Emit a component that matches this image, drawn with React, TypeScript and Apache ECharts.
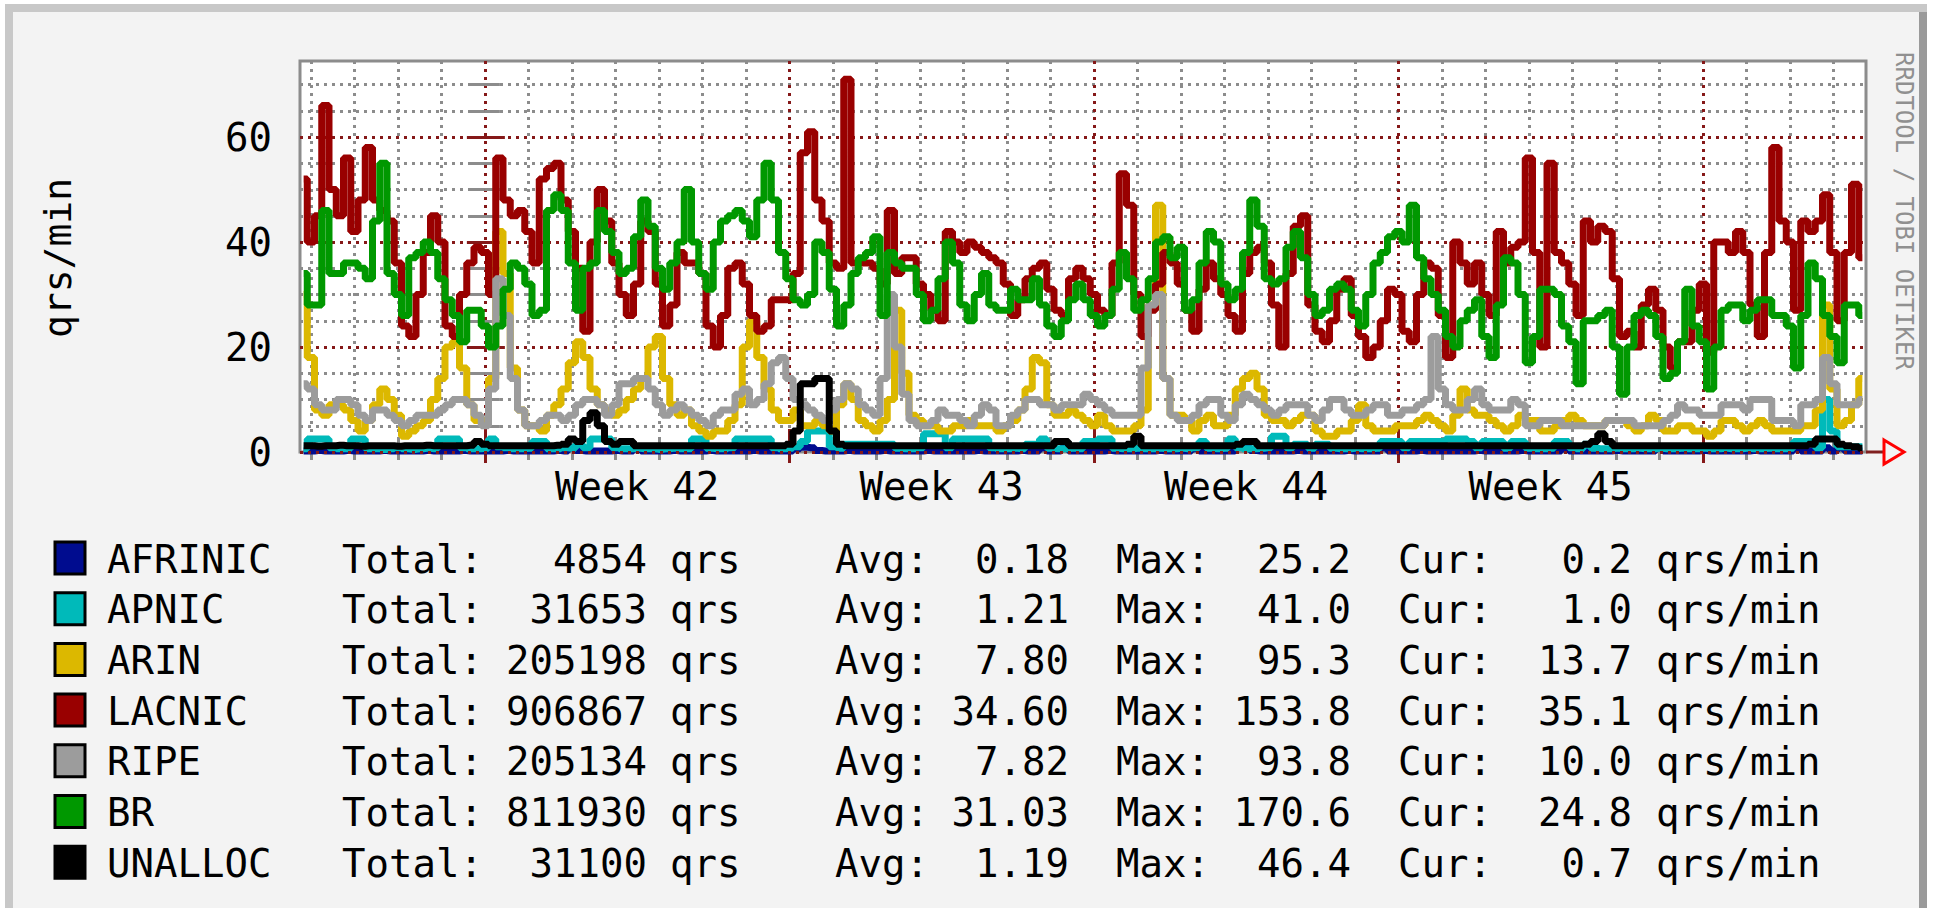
import React, { useEffect, useRef } from 'react';
import * as echarts from 'echarts';

// ---- time sampling (hours from Monday 00:00 of week 42) ----
const SAMPLE_START_HOUR = -100;
const SAMPLE_STEP_HOURS = 4;
const X_MIN = -102;
const X_MAX = 762;
const Y_MAX = 74.5;

// ---- series values (qrs/min), one value per 4 hours ----
const AFRINIC = [
  0.2,0.2,0.3,0.2,0.2,0.2,0.3,0.2,0.2,0.2,
  0.2,0.3,0.2,0.2,0.2,0.2,0.2,0.3,0.2,0.2,
  0.2,0.2,0.3,0.2,0.2,0.2,0.2,0.2,0.3,0.2,
  0.2,0.2,0.2,0.2,0.2,0.3,0.2,0.8,0.3,0.2,
  0.2,0.2,0.2,0.3,0.2,0.2,0.9,0.2,0.2,0.2,
  0.2,0.3,0.2,0.2,0.2,0.2,0.3,0.2,0.2,0.2,
  0.2,0.2,0.3,0.2,0.2,0.2,0.2,0.2,0.6,0.9,
  0.8,0.3,0.2,0.2,0.2,0.3,0.2,0.2,0.2,0.2,
  0.3,0.2,0.2,0.2,0.2,0.2,0.3,0.2,0.2,0.2,
  0.2,0.2,0.2,0.3,0.2,0.2,0.2,0.2,0.2,0.3,
  0.2,0.2,0.8,0.2,0.2,0.8,0.2,0.2,0.2,0.2,
  0.2,0.3,0.2,0.2,0.2,0.2,0.2,0.2,0.3,0.2,
  0.2,0.2,0.2,0.6,0.2,0.2,0.2,0.2,0.2,1.0,
  1.0,0.3,0.2,0.2,0.2,0.2,0.2,0.3,0.2,0.2,
  0.2,0.2,0.2,0.2,0.3,0.2,0.2,0.2,0.2,0.8,
  0.2,0.2,0.2,0.2,0.3,0.2,0.2,0.2,0.2,0.2,
  0.2,0.2,0.3,0.2,0.2,0.2,0.2,0.2,0.3,0.2,
  0.2,0.2,0.2,0.2,0.8,0.2,0.2,0.2,0.2,0.2,
  0.2,0.3,0.2,0.2,0.2,0.2,0.2,0.8,0.2,0.2,
  0.2,0.2,0.2,0.3,0.2,0.2,0.2,0.2,0.2,0.2,
  0.3,0.2,0.2,0.2,0.2,0.2,0.8,0.2,0.2,0.2,
  0.8,0.2,0.8,0.2,0.2,0.2,
];
const APNIC = [
  0.6,2.5,2.5,2.5,0.8,0.6,0.6,2.5,2.5,0.6,
  0.6,0.5,0.6,0.8,0.6,0.5,0.6,0.7,0.6,2.5,
  2.5,2.5,0.8,0.6,0.6,0.7,2.5,1.0,0.8,0.6,
  0.6,0.7,2.0,2.0,0.6,0.6,0.8,0.7,1.5,0.8,
  2.5,2.5,2.5,0.8,0.6,0.6,0.7,0.6,0.6,0.5,
  0.6,0.7,0.6,0.6,2.5,2.5,0.7,0.6,0.6,0.8,
  2.5,2.5,2.5,2.5,2.5,0.8,0.6,0.7,1.0,2.0,
  4.0,4.0,4.0,1.0,0.7,1.5,1.5,1.5,1.5,1.5,
  1.5,1.5,0.7,0.6,0.6,0.8,3.5,3.5,3.5,0.8,
  2.5,2.5,2.5,2.5,2.5,0.8,0.6,0.6,0.7,0.6,
  1.5,1.5,2.5,0.7,0.6,0.6,0.7,0.6,2.0,2.0,
  2.5,2.5,0.7,0.6,0.6,0.7,0.6,0.6,0.7,0.6,
  0.6,0.7,0.6,0.8,2.0,0.7,0.6,0.7,2.5,0.8,
  0.6,0.6,0.7,0.8,3.0,3.0,0.8,1.5,1.5,0.7,
  1.5,1.5,0.7,0.6,0.6,0.7,0.6,0.6,0.7,2.0,
  2.0,2.0,0.8,2.0,2.0,2.0,2.0,2.0,2.5,2.5,
  2.5,2.0,0.8,2.0,2.0,2.0,0.7,2.0,2.0,0.7,
  0.6,0.6,0.7,2.0,2.0,0.8,0.6,1.5,0.7,0.6,
  0.6,0.7,0.6,0.6,0.7,0.6,0.6,0.7,0.6,0.6,
  0.7,0.6,0.6,0.7,0.6,0.6,0.7,0.6,0.6,0.7,
  0.6,0.6,0.7,0.6,0.6,0.7,2.0,2.0,2.0,0.8,
  10.0,4.0,1.0,1.0,1.0,1.0,
];
const ARIN = [
  30,18,8,7,9,9,8,6,4,6,
  9,12,10,7,3,4,5,6,10,14,
  20,21,16,9,6,6,14,42,34,16,
  8,5,5,4,7,9,12,17,21,18,
  12,9,8,7,8,10,12,14,20,22,
  14,9,7,8,5,4,3,4,4,6,
  9,20,25,18,12,8,6,6,8,5,
  5,6,5,4,9,13,10,6,5,4,
  6,10,27,15,7,6,5,5,4,4,
  5,5,6,5,5,5,4,5,6,8,
  12,18,17,9,7,7,8,7,6,5,
  7,5,4,4,4,5,8,28,47,14,
  7,7,6,4,6,7,5,5,7,12,
  14,15,12,7,6,6,5,6,7,7,
  4,3,3,4,4,6,9,5,4,4,
  4,5,5,5,6,7,6,5,4,7,
  12,8,7,7,6,5,4,5,7,6,
  6,4,4,5,6,7,6,5,5,5,
  6,6,6,5,4,5,7,6,4,4,
  5,5,4,4,3,4,6,6,5,4,
  5,6,5,4,4,4,4,5,5,8,
  28,12,5,6,9,14,
];
const LACNIC = [
  52,40,45,66,50,45,56,42,48,58,
  48,46,44,36,24,22,30,38,45,40,
  24,22,30,36,39,38,30,56,48,45,
  46,42,36,52,54,55,48,42,35,23,
  40,50,44,36,30,26,32,44,42,32,
  24,28,38,36,36,34,24,20,26,35,
  36,32,26,23,24,29,29,29,34,57,
  61,48,44,36,35,71,36,36,36,35,
  32,46,34,37,37,32,30,27,25,42,
  40,38,40,39,38,37,36,32,26,29,
  33,35,36,31,27,26,33,35,33,30,
  27,26,36,53,47,30,22,27,32,38,
  36,32,27,23,31,36,33,30,26,23,
  34,38,39,36,28,20,34,43,45,28,
  23,21,25,31,33,26,22,18,20,25,
  31,30,23,21,30,36,35,26,18,40,
  36,32,36,30,26,42,36,39,40,56,
  38,20,55,38,36,32,26,44,40,43,
  42,33,22,23,20,28,31,27,20,16,
  21,21,27,32,19,40,40,38,42,38,
  28,22,38,58,44,40,27,44,42,44,
  49,38,25,38,51,37,
];
const RIPE = [
  13,12,9,8,8,10,10,9,7,6,
  8,8,7,6,5,6,7,7,7,8,
  9,10,10,9,7,5,12,33,26,14,
  8,5,5,6,7,7,6,7,9,10,
  10,9,7,9,13,13,14,14,12,9,
  7,8,9,8,7,6,5,7,8,8,
  11,12,9,10,13,17,18,14,10,9,
  8,7,6,8,10,13,12,9,8,7,
  14,30,20,11,6,5,5,6,8,7,
  7,6,5,7,9,8,5,5,7,8,
  10,10,9,9,8,9,9,9,11,10,
  9,8,7,7,7,7,16,28,30,14,
  7,6,6,7,9,10,10,7,6,9,
  11,10,9,8,7,8,9,9,9,7,
  6,8,10,10,8,7,7,8,9,9,
  7,7,8,8,9,10,22,12,9,8,
  8,10,12,9,8,8,8,10,9,5,
  5,6,6,6,5,5,5,5,5,5,
  6,6,6,6,5,5,5,5,6,7,
  9,8,8,7,7,7,9,9,9,8,
  10,10,10,6,6,6,5,9,9,10,
  18,13,9,9,9,10,
];
const BR = [
  34,28,28,46,34,34,36,36,35,33,
  44,55,34,30,26,37,38,40,38,33,
  29,26,21,27,27,24,20,24,31,36,
  35,32,26,27,46,49,46,36,27,35,
  36,46,42,38,34,35,41,48,43,35,
  31,36,40,50,40,34,31,40,44,45,
  46,44,41,48,55,48,38,33,29,28,
  30,40,38,31,24,28,34,37,38,41,
  26,38,36,35,35,30,25,27,33,40,
  36,28,25,30,34,28,27,27,31,29,
  29,33,28,24,22,25,29,32,29,26,
  24,26,31,38,33,27,29,33,40,41,
  37,39,27,29,36,42,40,32,29,31,
  38,48,43,33,32,33,39,42,37,30,
  26,27,31,32,31,27,24,30,36,38,
  41,42,40,47,37,33,30,27,22,20,
  25,27,29,22,18,28,37,36,30,17,
  22,31,31,30,24,21,13,25,25,26,
  27,20,11,20,26,27,26,22,14,15,
  21,31,24,21,12,20,27,28,28,25,
  27,29,29,26,26,24,16,26,36,33,
  26,22,17,28,28,26,
];
const UNALLOC = [
  1.2,1.2,1.1,1.2,1.2,1.3,1.2,1.2,1.1,1.2,
  1.2,1.2,1.2,1.1,1.2,1.2,1.2,1.3,1.2,1.2,
  1.2,1.2,1.2,1.3,2.0,1.5,1.2,1.2,1.2,1.2,
  1.2,1.2,1.2,1.2,1.2,1.3,1.5,2.5,2.0,6.0,
  7.5,5.0,2.0,1.5,2.0,2.0,1.2,1.2,1.2,1.2,
  1.2,1.2,1.2,1.2,1.2,1.2,1.2,1.2,1.2,1.2,
  1.2,1.2,1.2,1.2,1.2,1.2,1.2,1.5,4.0,13.0,
  13.0,14.0,14.0,4.0,1.5,1.2,1.2,1.2,1.2,1.2,
  1.2,1.2,1.2,1.2,1.2,1.2,1.2,1.2,1.2,1.2,
  1.2,1.2,1.2,1.2,1.2,1.2,1.2,1.2,1.2,1.2,
  1.2,1.2,1.2,1.2,2.0,2.0,1.2,1.2,1.2,1.2,
  1.2,1.2,1.2,1.2,1.5,3.0,1.2,1.2,1.2,1.2,
  1.2,1.2,1.2,1.2,1.2,1.2,1.2,1.2,1.2,1.5,
  2.0,2.0,1.2,1.2,1.2,1.2,1.2,1.2,1.2,1.2,
  1.2,1.2,1.2,1.2,1.2,1.2,1.2,1.2,1.2,1.2,
  1.2,1.2,1.2,1.2,1.2,1.2,1.2,1.2,1.2,1.2,
  1.2,1.2,1.2,1.2,1.2,1.2,1.2,1.2,1.2,1.2,
  1.2,1.2,1.2,1.2,1.2,1.2,1.2,1.5,2.0,3.5,
  2.0,1.2,1.2,1.2,1.2,1.2,1.2,1.2,1.2,1.2,
  1.2,1.2,1.2,1.2,1.2,1.2,1.2,1.2,1.2,1.2,
  1.2,1.2,1.2,1.2,1.2,1.2,1.2,1.2,1.5,2.5,
  2.5,2.5,1.5,1.2,1.0,0.7,
];

// ---- legend / axis texts ----
const SERIES_NAMES = ['AFRINIC', 'APNIC', 'ARIN', 'LACNIC', 'RIPE', 'BR', 'UNALLOC'];
const SERIES_VALUES = [AFRINIC, APNIC, ARIN, LACNIC, RIPE, BR, UNALLOC];
const SERIES_COLORS = ['#000c8f', '#00baba', '#dcb800', '#990000', '#9c9c9c', '#009800', '#000000'];
const TOTALS = ['4854', '31653', '205198', '906867', '205134', '811930', '31100'];
const AVGS = ['0.18', '1.21', '7.80', '34.60', '7.82', '31.03', '1.19'];
const MAXS = ['25.2', '41.0', '95.3', '153.8', '93.8', '170.6', '46.4'];
const CURS = ['0.2', '1.0', '13.7', '35.1', '10.0', '24.8', '0.7'];

const WEEK_TICKS = [0, 168, 336, 504, 672];
const WEEK_LABEL_HOURS = [84, 252, 420, 588];
const WEEK_LABELS = ['Week 42', 'Week 43', 'Week 44', 'Week 45'];
const DAY_TICKS = [-96, -72, -48, -24, 24, 48, 72, 96, 120, 144, 192, 216, 240, 264, 288, 312,
  360, 384, 408, 432, 456, 480, 528, 552, 576, 600, 624, 648, 696, 720, 744];
const Y_MAJOR = [0, 20, 40, 60];
const Y_MINOR = [5, 10, 15, 25, 30, 35, 45, 50, 55, 65, 70];

const Y_TITLE = 'qrs/min';
const WATERMARK = 'RRDTOOL / TOBI OETIKER';

// ---- styles ----
const MONO = "'DejaVu Sans Mono', monospace";
const GRID_GRAY = '#8c8c8c';
const GRID_RED = '#851818';
const DASH = [3, 5];
const LINE_WIDTH = 7;

const HOURS = AFRINIC.map((_, i) => SAMPLE_START_HOUR + i * SAMPLE_STEP_HOURS);

function xAxisDef(position: string, offset: number, len: number, ticks: number[], color: string, split: boolean, labels: boolean) {
  return {
    type: 'value', min: X_MIN, max: X_MAX, position, offset,
    axisLine: { show: false },
    axisTick: { show: true, inside: true, length: len, customValues: ticks, lineStyle: { color, width: 3 } },
    splitLine: { show: split, lineStyle: { color, width: 3, type: DASH } },
    axisLabel: labels ? {
      show: true, customValues: WEEK_LABEL_HOURS, margin: 10,
      formatter: (v: number) => WEEK_LABELS[WEEK_LABEL_HOURS.indexOf(v)] ?? '',
      fontFamily: MONO, fontSize: 39, color: '#000',
    } : { show: false },
  };
}

function yAxisDef(position: string, offset: number, len: number, ticks: number[], color: string, split: boolean, labels: boolean) {
  return {
    type: 'value', min: 0, max: Y_MAX, position, offset,
    axisLine: { show: false },
    axisTick: { show: true, inside: true, length: len, customValues: ticks, lineStyle: { color, width: 3 } },
    splitLine: { show: split, lineStyle: { color, width: 3, type: DASH } },
    axisLabel: labels ? {
      show: true, customValues: Y_MAJOR, margin: 20, padding: [14, 0, 0, 0],
      fontFamily: MONO, fontSize: 39, color: '#000',
    } : { show: false },
  };
}

function buildGraphics() {
  const els: any[] = [
    { type: 'rect', z: -100, shape: { x: 5, y: 4, width: 1922, height: 904 }, style: { fill: '#c8c8c8' } },
    { type: 'rect', z: -99, shape: { x: 13, y: 12, width: 1906, height: 896 }, style: { fill: '#f3f3f3' } },
    { type: 'rect', z: -99, shape: { x: 1919, y: 12, width: 8, height: 896 }, style: { fill: '#9a9a9a' } },
    {
      type: 'text', x: 58, y: 258, rotation: Math.PI / 2,
      style: { text: Y_TITLE, fontFamily: MONO, fontSize: 38, fill: '#000', align: 'center', verticalAlign: 'middle' },
    },
    {
      type: 'text', x: 1904, y: 211, rotation: -Math.PI / 2,
      style: { text: WATERMARK, fontFamily: MONO, fontSize: 24, fill: '#909090', align: 'center', verticalAlign: 'middle' },
    },
    { type: 'polyline', shape: { points: [[1866, 452], [1884, 452]] }, style: { stroke: '#7f1f1f', lineWidth: 3 } },
    { type: 'polygon', shape: { points: [[1884, 440], [1904, 452], [1884, 464]] }, style: { fill: 'transparent', stroke: '#ff0000', lineWidth: 3 } },
  ];
  SERIES_NAMES.forEach((name, i) => {
    const cy = 558 + i * 50.7;
    els.push({ type: 'rect', shape: { x: 55, y: cy - 16, width: 30, height: 32 }, style: { fill: SERIES_COLORS[i], stroke: '#000', lineWidth: 3 } });
    const t = (x: number, text: string, align: string) => ({
      type: 'text', x, y: cy + 1,
      style: { text, fontFamily: MONO, fontSize: 39, fill: '#000', align, verticalAlign: 'middle' },
    });
    els.push(
      t(107, name, 'left'), t(342, 'Total:', 'left'), t(647, TOTALS[i], 'right'), t(670, 'qrs', 'left'),
      t(835, 'Avg:', 'left'), t(1069, AVGS[i], 'right'), t(1116, 'Max:', 'left'), t(1351, MAXS[i], 'right'),
      t(1398, 'Cur:', 'left'), t(1632, CURS[i], 'right'), t(1656, 'qrs/min', 'left'),
    );
  });
  return els;
}

function buildOption() {
  return {
    animation: false,
    backgroundColor: '#ffffff',
    grid: { left: 300, top: 61, width: 1566, height: 391, show: true, backgroundColor: '#ffffff', borderColor: GRID_GRAY, borderWidth: 3 },
    xAxis: [
      xAxisDef('bottom', 5, 15, DAY_TICKS, GRID_GRAY, true, true),
      xAxisDef('bottom', 9, 22, WEEK_TICKS, GRID_RED, true, false),
      xAxisDef('top', 6, 8, DAY_TICKS, GRID_GRAY, false, false),
      xAxisDef('top', 10, 11, WEEK_TICKS, GRID_RED, false, false),
    ],
    yAxis: [
      yAxisDef('left', 5, 15, Y_MINOR, GRID_GRAY, true, false),
      yAxisDef('left', 8, 20, Y_MAJOR, GRID_RED, true, true),
      yAxisDef('right', 7, 14, Y_MINOR, GRID_GRAY, false, false),
      yAxisDef('right', 11, 18, Y_MAJOR, GRID_RED, false, false),
    ],
    graphic: buildGraphics(),
    series: SERIES_NAMES.map((name, i) => ({
      name, type: 'line', silent: true, showSymbol: false, symbol: 'none', step: 'middle',
      xAxisIndex: 0, yAxisIndex: 0,
      data: SERIES_VALUES[i].map((v, k) => [HOURS[k], v]),
      lineStyle: { color: SERIES_COLORS[i], width: LINE_WIDTH },
      itemStyle: { color: SERIES_COLORS[i] },
      markLine: name === 'UNALLOC' ? {
        silent: true, symbol: ['none', 'none'], label: { show: false },
        lineStyle: { color: GRID_RED, width: 3, type: DASH },
        data: [{ yAxis: 0 }],
      } : undefined,
    })),
  };
}

export default function App() {
  const ref = useRef<HTMLDivElement>(null);
  useEffect(() => {
    document.body.style.margin = '0';
    document.body.style.overflow = 'hidden';
    const chart = echarts.init(ref.current!, null, { renderer: 'svg' });
    chart.setOption(buildOption() as any);
    return () => chart.dispose();
  }, []);
  return <div ref={ref} style={{ width: 1935, height: 908 }} />;
}
